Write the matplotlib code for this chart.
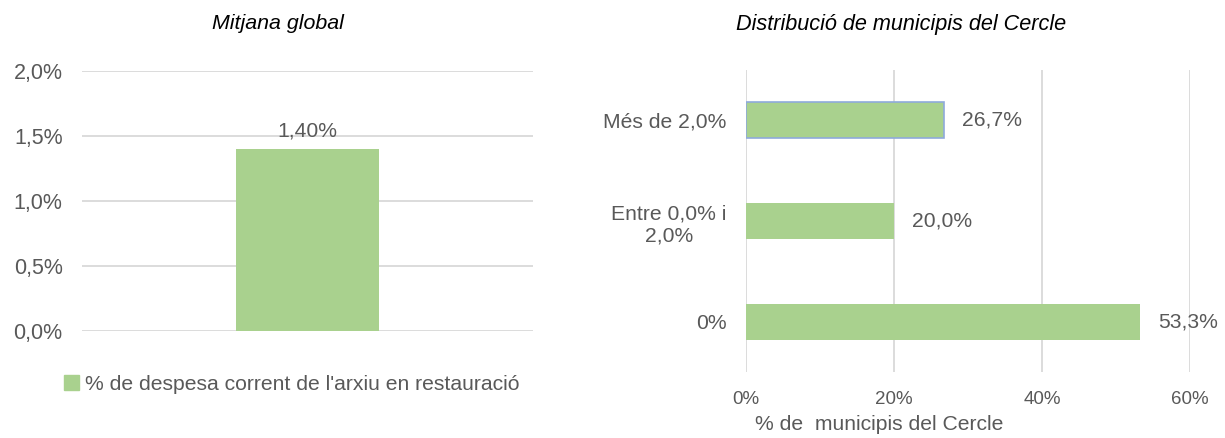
import matplotlib.pyplot as plt
from matplotlib.patches import Patch
from matplotlib.ticker import FuncFormatter

plt.rcParams['font.family'] = ['Liberation Sans', 'DejaVu Sans']

# left chart: global average
mitjana_cat = ['']
mitjana_val = [1.40]          # % de despesa corrent
mitjana_ticks = [0.0, 0.5, 1.0, 1.5, 2.0]
legend_label = "% de despesa corrent de l'arxiu en restauració"

# right chart: distribution of municipalities
dist_cat = ['0%', 'Entre 0,0% i\n2,0%', 'Més de 2,0%']
dist_val = [53.3, 20.0, 26.7]
dist_ticks = [0, 20, 40, 60]

green = '#A9D18E'
grey_txt = '#595959'
grid_col = '#D9D9D9'
fs = 15.2

fig = plt.figure(figsize=(12.25, 4.38), dpi=100)

# ---- Mitjana global
ax1 = fig.add_axes([82/1225, 1-331/438, 451/1225, 260/438])
ax1.bar(range(len(mitjana_val)), mitjana_val, width=0.315, color=green, zorder=3)
ax1.set_xlim(-0.5, 0.5)
ax1.set_ylim(0, 2.0)
ax1.set_yticks(mitjana_ticks)
ax1.yaxis.set_major_formatter(FuncFormatter(lambda v, p: ('%.1f%%' % v).replace('.', ',')))
ax1.set_xticks([])
ax1.grid(axis='y', color=grid_col, linewidth=1.3, zorder=0)
for s in ax1.spines.values():
    s.set_visible(False)
ax1.tick_params(axis='y', length=0, pad=14, labelsize=15.5, labelcolor=grey_txt)
for i, v in enumerate(mitjana_val):
    ax1.annotate(('%.2f%%' % v).replace('.', ','), (i, v), xytext=(0, 6),
                 textcoords='offset points', ha='center', va='bottom',
                 fontsize=fs, color=grey_txt)
ax1.set_title('Mitjana global', fontsize=15.4, style='italic', color='black',
              x=0.435, pad=30)
ax1.legend(handles=[Patch(color=green, label=legend_label)], loc='center',
           bbox_to_anchor=(0.466, -0.205), frameon=False, fontsize=fs,
           labelcolor=grey_txt, handlelength=0.7, handleheight=0.7,
           handletextpad=0.3, borderaxespad=0)

# ---- Distribució de municipis del Cercle
ax2 = fig.add_axes([746/1225, 1-372/438, 444/1225, 302/438])
bars = ax2.barh(range(len(dist_val)), dist_val, height=0.36, color=green, zorder=3)
bars[2].set_edgecolor('#8FAADC')
bars[2].set_linewidth(1.2)
ax2.set_xlim(0, 60)
ax2.set_ylim(-0.5, 2.5)
ax2.set_xticks(dist_ticks)
ax2.xaxis.set_major_formatter(FuncFormatter(lambda v, p: '%d%%' % v))
ax2.set_yticks(range(len(dist_cat)))
ax2.set_yticklabels(dist_cat, multialignment='center')
ax2.grid(axis='x', color=grid_col, linewidth=1.3, zorder=0)
for s in ax2.spines.values():
    s.set_visible(False)
ax2.tick_params(axis='y', length=0, pad=14, labelsize=fs, labelcolor=grey_txt)
ax2.tick_params(axis='x', length=0, pad=14, labelsize=13.5, labelcolor=grey_txt)
for i, v in enumerate(dist_val):
    ax2.annotate(('%.1f%%' % v).replace('.', ','), (v, i), xytext=(13, 0),
                 textcoords='offset points', ha='left', va='center',
                 fontsize=fs, color=grey_txt, annotation_clip=False)
ax2.set_xlabel('% de  municipis del Cercle', fontsize=fs, color=grey_txt)
ax2.xaxis.set_label_coords(0.30, -0.143)
ax2.set_title('Distribució de municipis del Cercle', fontsize=15.6, style='italic',
              color='black', x=0.35, pad=29)

fig.savefig('out.png', dpi=100)
